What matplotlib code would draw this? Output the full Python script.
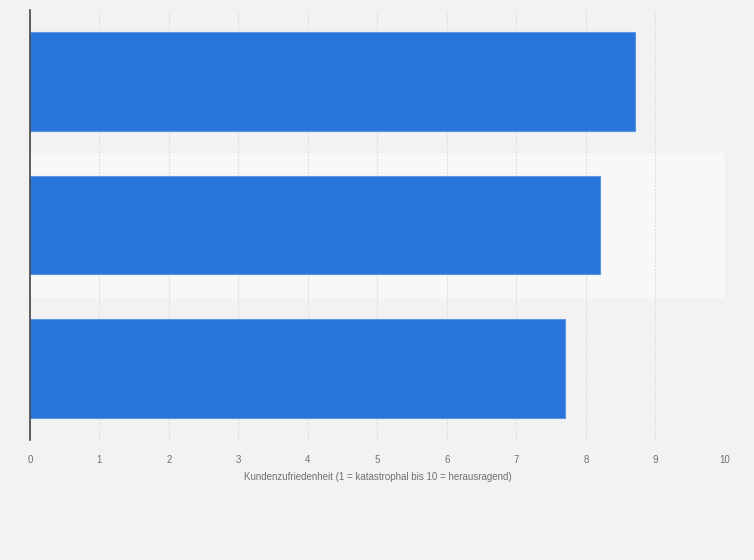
import matplotlib.pyplot as plt

plt.rcParams["font.family"] = ["Liberation Sans", "DejaVu Sans"]

# Kundenzufriedenheit, drei Balken ohne Beschriftung
kategorien = ["A", "B", "C"]
werte = [8.7, 8.2, 7.7]
xticks = list(range(0, 11))

fig = plt.figure(figsize=(7.54, 5.6), dpi=100)
fig.patch.set_facecolor("#f2f2f2")
ax = fig.add_axes([30 / 754, 1 - 440 / 560, 695 / 754, 430 / 560])
ax.set_facecolor("#f2f2f2")

pos = list(range(len(kategorien)))[::-1]

# helles Band hinter dem mittleren Balken
for i, p in enumerate(pos):
    if i % 2 == 1:
        ax.axhspan(p - 0.5, p + 0.5, color="#f8f8f8", zorder=0)

ax.barh(pos, werte, height=0.69, color="#2775db", edgecolor="#5b96e6",
        linewidth=0.8, zorder=3)

ax.set_xlim(0, 10)
ax.set_ylim(-0.5, 2.5)
ax.set_xticks(xticks)
ax.set_xticklabels([str(t) for t in xticks], fontsize=7, color="#707070")
ax.tick_params(axis="x", length=0, pad=11)
ax.set_yticks([])
ax.grid(axis="x", color="#dadada", linestyle=(0, (1.5, 1.5)), linewidth=0.8, zorder=1)

for s in ["top", "right", "bottom"]:
    ax.spines[s].set_visible(False)
ax.spines["left"].set_color("#444444")
ax.spines["left"].set_linewidth(1.2)
ax.spines["left"].set_zorder(4)

ax.set_xlabel("Kundenzufriedenheit (1 = katastrophal bis 10 = herausragend)",
              fontsize=7, color="#707070", labelpad=5)

fig.savefig("out.png", dpi=100, facecolor=fig.get_facecolor())
